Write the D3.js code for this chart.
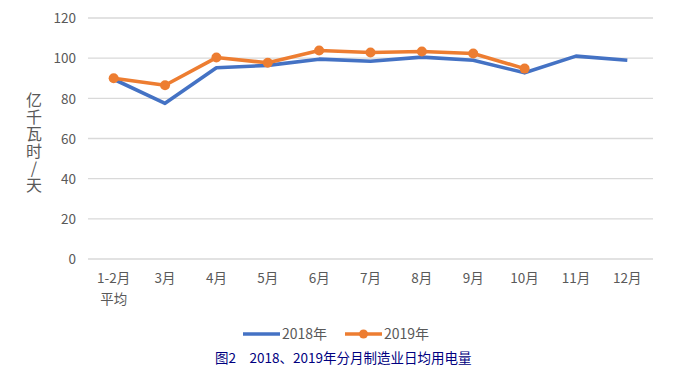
<!DOCTYPE html>
<html><head><meta charset="utf-8">
<script src="https://cdn.jsdelivr.net/npm/d3@7"></script>
<style>body{margin:0;background:#fff}svg{display:block}text{font-family:"Noto Sans CJK SC","Noto Sans",sans-serif}</style>
</head><body>
<svg id="c" width="698" height="377"></svg>
<script>
const categories = ["1-2月\n平均","3月","4月","5月","6月","7月","8月","9月","10月","11月","12月"];
const values2018 = [89.5,77.5,95.2,96.4,99.5,98.5,100.5,99,92.7,101,99];
const values2019 = [90,86.5,100.3,97.7,103.8,102.8,103.3,102.3,94.8];
const yTicks = [0,20,40,60,80,100,120];
const seriesNames = ["2018年","2019年"];
const yTitle = "亿千瓦时/天";
const caption = "图2　2018、2019年分月制造业日均用电量";
const colors = ["#4472C4","#ED7D31"];

const svg = d3.select("#c");
const x = d3.scaleBand().domain(categories).range([88,653]);
const y = d3.scaleLinear().domain([0,120]).range([259,18]);
const grey = "#595959";

// gridlines
svg.append("g").selectAll("line").data(yTicks).join("line")
  .attr("x1",88).attr("x2",653).attr("y1",d=>y(d)).attr("y2",d=>y(d))
  .attr("stroke","#d9d9d9").attr("stroke-width",1.3);

// y axis labels
const ya = svg.append("g").attr("transform","translate(76,0)")
  .call(d3.axisLeft(y).tickValues(yTicks).tickSize(0).tickPadding(0));
ya.select(".domain").remove();
ya.selectAll("text").attr("fill",grey).style("font-size","13.5px").attr("dy","0.35em");

// x labels
const xa = svg.append("g").attr("transform","translate(0,259)")
  .call(d3.axisBottom(x).tickSize(0).tickFormat(""));
xa.select(".domain").remove();
xa.selectAll(".tick").each(function(d){
  const lines = d.split("\n");
  const t = d3.select(this).append("text").attr("fill",grey).attr("text-anchor","middle")
    .style("font-size","13.5px");
  lines.forEach((l,i)=>t.append("tspan").attr("x",0).attr("y",24+i*21).text(l));
});

// y title vertical (single text, upright glyphs)
svg.append("text").attr("x",34).attr("y",92).attr("fill",grey)
  .style("font-size","16px").style("writing-mode","vertical-rl")
  .style("text-orientation","upright").style("letter-spacing","1px")
  .text(yTitle);

// lines
const line = d3.line().x((d,i)=>x(categories[i])+x.bandwidth()/2).y(d=>y(d));
svg.append("path").datum(values2018).attr("d",line).attr("fill","none")
  .attr("stroke",colors[0]).attr("stroke-width",3.6).attr("stroke-linejoin","round");
svg.append("path").datum(values2019).attr("d",line).attr("fill","none")
  .attr("stroke",colors[1]).attr("stroke-width",3.6).attr("stroke-linejoin","round");
svg.append("g").selectAll("circle").data(values2019).join("circle")
  .attr("cx",(d,i)=>x(categories[i])+x.bandwidth()/2).attr("cy",d=>y(d)).attr("r",5)
  .attr("fill",colors[1]);

// legend
const lg = svg.append("g");
[[243,0],[345,1]].forEach(([lx,i])=>{
  lg.append("line").attr("x1",lx).attr("x2",lx+37).attr("y1",334).attr("y2",334)
    .attr("stroke",colors[i]).attr("stroke-width",3.6);
  if(i===1) lg.append("circle").attr("cx",lx+18.5).attr("cy",334).attr("r",4.5).attr("fill",colors[i]);
  lg.append("text").attr("x",lx+39).attr("y",339).attr("fill",grey).style("font-size","14px").text(seriesNames[i]);
});

// caption
svg.append("text").attr("x",215).attr("y",363).attr("fill","#000080")
  .style("font-size","13.5px").style("font-family","'Noto Sans CJK SC','DejaVu Sans'")
  .text(caption);
</script>
</body></html>
